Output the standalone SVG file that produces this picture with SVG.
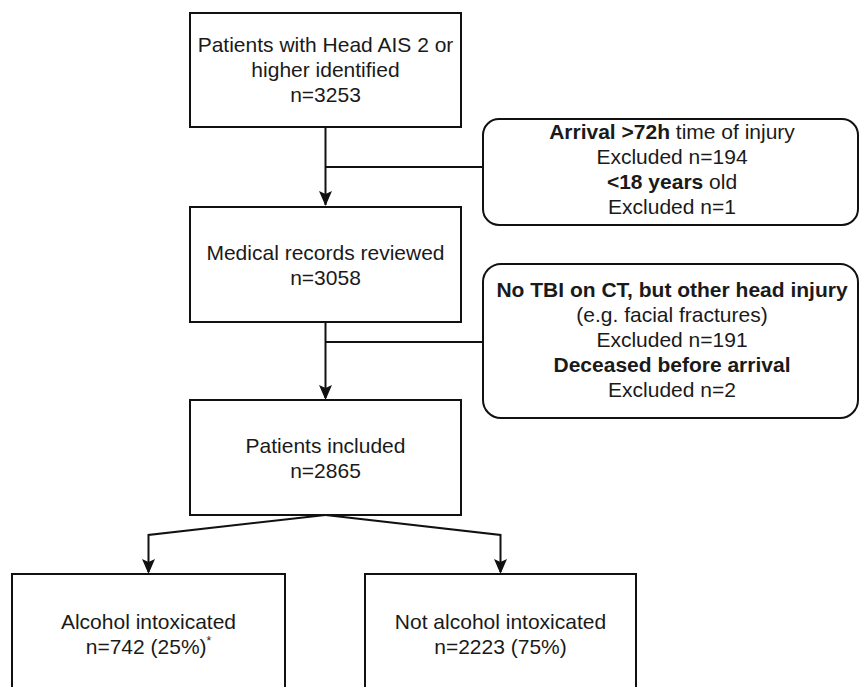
<svg xmlns="http://www.w3.org/2000/svg" width="859" height="687" viewBox="0 0 859 687">
<defs>
<style>
.box{fill:#fff;stroke:#111;stroke-width:2}
.t{font-family:"Liberation Sans",Arial,sans-serif;font-size:21px;fill:#1a1a1a;text-anchor:middle}
.b{font-weight:bold}
.c{fill:none;stroke:#111;stroke-width:2}
</style>
<marker id="arr" markerWidth="14" markerHeight="16" refX="7" refY="15" orient="auto-start-reverse" markerUnits="userSpaceOnUse" viewBox="0 0 14 16">
<path d="M0,0 L7,4 L14,0 L7,16 Z" fill="#111" transform="rotate(0)"/>
</marker>
</defs>
<rect width="859" height="687" fill="#fff"/>
<g id="connectors">
<path class="c" d="M325.5,127 V205"/>
<path class="c" d="M325.5,167 H483"/>
<path class="c" d="M325.5,322 V398"/>
<path class="c" d="M325.5,342 H483"/>
<path class="c" d="M325.5,515 L148.5,535 V572"/>
<path class="c" d="M325.5,515 L500.5,535 V572"/>
<path d="M319,191 L325.5,194 L332,191 L325.5,206 Z" fill="#111"/>
<path d="M319,385 L325.5,388 L332,385 L325.5,400 Z" fill="#111"/>
<path d="M142,559 L148.5,562 L155,559 L148.5,574 Z" fill="#111"/>
<path d="M494,559 L500.5,562 L507,559 L500.5,574 Z" fill="#111"/>
</g>
<g id="n1">
<rect class="box" x="190" y="13" width="271" height="114"/>
<text class="t" x="325.5" y="52">Patients with Head AIS 2 or</text>
<text class="t" x="325.5" y="77">higher identified</text>
<text class="t" x="325.5" y="102">n=3253</text>
</g>
<g id="exclA">
<rect class="box" x="483" y="119" width="375" height="106" rx="16"/>
<text class="t" x="672" y="139"><tspan class="b">Arrival &gt;72h</tspan> time of injury</text>
<text class="t" x="672" y="164">Excluded n=194</text>
<text class="t" x="672" y="189"><tspan class="b">&lt;18 years</tspan> old</text>
<text class="t" x="672" y="214">Excluded n=1</text>
</g>
<g id="n2">
<rect class="box" x="190" y="207" width="271" height="115"/>
<text class="t" x="325.5" y="260">Medical records reviewed</text>
<text class="t" x="325.5" y="285">n=3058</text>
</g>
<g id="exclB">
<rect class="box" x="483" y="264" width="375" height="154" rx="18"/>
<text class="t b" x="672" y="297">No TBI on CT, but other head injury</text>
<text class="t" x="672" y="322">(e.g. facial fractures)</text>
<text class="t" x="672" y="347">Excluded n=191</text>
<text class="t b" x="672" y="372">Deceased before arrival</text>
<text class="t" x="672" y="397">Excluded n=2</text>
</g>
<g id="n3">
<rect class="box" x="190" y="400" width="271" height="115"/>
<text class="t" x="325.5" y="453">Patients included</text>
<text class="t" x="325.5" y="478">n=2865</text>
</g>
<g id="n4">
<rect class="box" x="12" y="574" width="273" height="125"/>
<text class="t" x="148.5" y="629">Alcohol intoxicated</text>
<text class="t" x="148.5" y="654">n=742 (25%)<tspan font-size="12" dy="-9">*</tspan></text>
</g>
<g id="n5">
<rect class="box" x="365" y="574" width="271" height="125"/>
<text class="t" x="500.5" y="629">Not alcohol intoxicated</text>
<text class="t" x="500.5" y="654">n=2223 (75%)</text>
</g>
</svg>
